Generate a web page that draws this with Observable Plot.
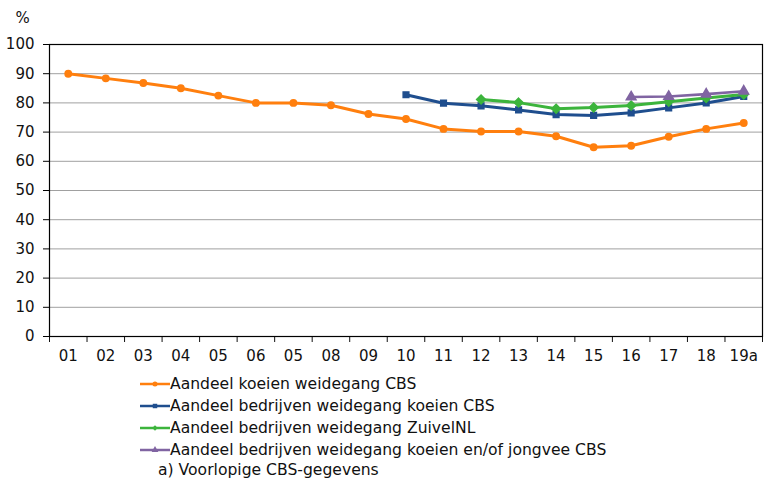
<!DOCTYPE html>
<html><head><meta charset="utf-8">
<script src="https://cdn.jsdelivr.net/npm/d3@7"></script>
<script src="https://cdn.jsdelivr.net/npm/@observablehq/plot@0.6"></script>
<style>
body{margin:0;background:#fff;font-family:"DejaVu Sans",Verdana,sans-serif;color:#111;}
#chart svg{display:block;}
#legend{margin-left:140px;margin-top:5px;font-size:15.6px;}
.row{height:22px;line-height:22px;display:flex;align-items:center;}
.row svg{display:block;margin-right:0;}
.note{margin-left:18px;height:18px;line-height:18px;}
</style></head><body>
<div id="chart"></div>
<div id="legend"></div>
<script>
const yearLabels = ["01","02","03","04","05","06","05","08","09","10","11","12","13","14","15","16","17","18","19a"];
const seriesNames = [
  "Aandeel koeien weidegang CBS",
  "Aandeel bedrijven weidegang koeien CBS",
  "Aandeel bedrijven weidegang ZuivelNL",
  "Aandeel bedrijven weidegang koeien en/of jongvee CBS"
];
const koeienCBS    = [90,88.4,86.8,85,82.5,80,80,79.2,76.2,74.5,71.1,70.2,70.2,68.6,64.8,65.3,68.4,71.1,73.1];
const bedrijvenCBS = [null,null,null,null,null,null,null,null,null,82.8,79.9,79,77.6,76,75.7,76.6,78.3,80,82.2];
const zuivelNL     = [null,null,null,null,null,null,null,null,null,null,null,81.2,80.1,78,78.4,79.1,80.4,81.7,82.9];
const jongveeCBS   = [null,null,null,null,null,null,null,null,null,null,null,null,null,null,null,82,82.2,83,84];
const yTicks = [0,10,20,30,40,50,60,70,80,90,100];
const footnote = "a) Voorlopige CBS-gegevens";

const colors = ["#ff7f0e","#1f4e8e","#3cb43c","#8064a2"];
const symbols = ["circle","square","diamond2","triangle"];
const sizes = [3.2,3.2,4,3.6];
const widths = [3,3,3,2.6];
const allSeries = [koeienCBS,bedrijvenCBS,zuivelNL,jongveeCBS];

const marks = [
  Plot.gridY(yTicks.filter(d => d > 0 && d < 100), {stroke:"#a0a0a0", strokeOpacity:1, strokeWidth:1}),
  Plot.axisY(yTicks, {tickSize:6, tickPadding:9, fontSize:15, stroke:"#000", label:null}),
  Plot.axisX(d3.range(20).map(i => i - 0.5), {tickSize:6, tickFormat: () => "", label:null}),
  Plot.axisX(d3.range(19), {tickSize:0, tickPadding:14, fontSize:15, tickFormat: i => yearLabels[i], label:null}),
  Plot.text(["%"], {frameAnchor:"top-left", dx:-34, dy:-32, fontSize:15, textAnchor:"start"})
];
allSeries.forEach((vals, k) => {
  const data = vals.map((v, i) => ({i, v})).filter(d => d.v != null);
  marks.push(Plot.line(data, {x:"i", y:"v", stroke: colors[k], strokeWidth: widths[k]}));
  marks.push(Plot.dot(data, {x:"i", y:"v", fill: colors[k], stroke: colors[k], symbol: symbols[k], r: sizes[k]}));
});
marks.push(Plot.frame({stroke:"#000", strokeWidth:1.2}));

const chart = Plot.plot({
  width: 766,
  height: 368,
  marginLeft: 49,
  marginRight: 4,
  marginTop: 44,
  marginBottom: 32,
  style: {fontFamily:'"DejaVu Sans",Verdana,sans-serif', fontSize:"15px", color:"#111", background:"#fff"},
  x: {type:"linear", domain:[-0.5, 18.5]},
  y: {domain:[0,100]},
  marks
});
document.getElementById("chart").appendChild(chart);

const legend = document.getElementById("legend");
seriesNames.forEach((name, k) => {
  const row = document.createElement("div");
  row.className = "row";
  const svg = d3.create("svg").attr("width", 30).attr("height", 14);
  svg.append("line").attr("x1",0).attr("x2",30).attr("y1",7).attr("y2",7).attr("stroke",colors[k]).attr("stroke-width",2.5);
  const sym = {circle:d3.symbolCircle, square:d3.symbolSquare, diamond2:d3.symbolDiamond2, triangle:d3.symbolTriangle}[symbols[k]];
  svg.append("path").attr("transform","translate(15,7)").attr("d", d3.symbol(sym, 20)()).attr("fill",colors[k]);
  row.appendChild(svg.node());
  const span = document.createElement("span");
  span.textContent = name;
  row.appendChild(span);
  legend.appendChild(row);
});
const note = document.createElement("div");
note.className = "note";
note.textContent = footnote;
legend.appendChild(note);
</script>
</body></html>
